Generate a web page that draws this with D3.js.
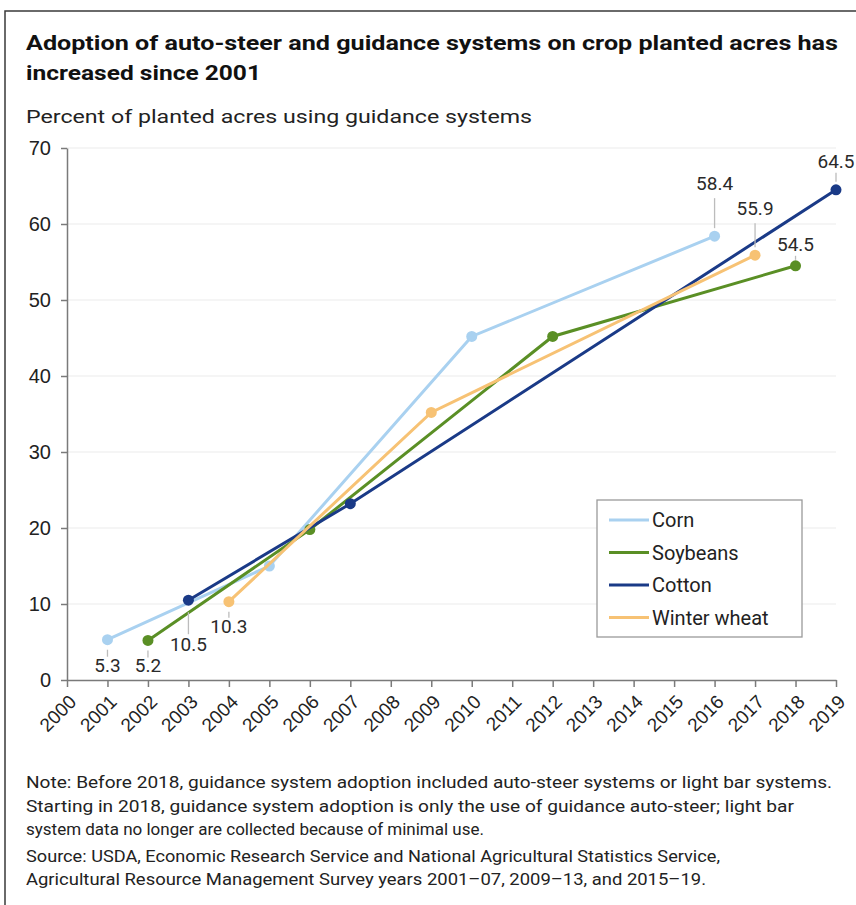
<!DOCTYPE html>
<html>
<head>
<meta charset="utf-8">
<script src="https://cdn.jsdelivr.net/npm/d3@7"></script>
<style>
  body { margin: 0; background: #fff; }
  svg { display: block; font-family: Roboto, "Liberation Sans", sans-serif; }
  .grid line { stroke: #ececec; stroke-width: 1.2; }
  .axis path, .axis line { stroke: #7a7a7a; stroke-width: 1.5; }
  .axis text { fill: #222; }
  .leader { stroke: #bcbcbc; stroke-width: 1.3; }
</style>
</head>
<body>
<div id="viz"></div>
<script>
// survey years and values per crop
const cornYears = [2001, 2005, 2010, 2016];
const cornValues = [5.3, 15.0, 45.2, 58.4];
const soyYears = [2002, 2006, 2012, 2018];
const soyValues = [5.2, 19.8, 45.2, 54.5];
const cottonYears = [2003, 2007, 2019];
const cottonValues = [10.5, 23.2, 64.5];
const wheatYears = [2004, 2009, 2017];
const wheatValues = [10.3, 35.2, 55.9];

const seriesNames = ["Corn", "Soybeans", "Cotton", "Winter wheat"];
const yTicks = [0, 10, 20, 30, 40, 50, 60, 70];
const xTicks = d3.range(2000, 2020);

// which points carry a value label
const labelled = [
  { crop: "Corn", year: 2001 }, { crop: "Soybeans", year: 2002 },
  { crop: "Cotton", year: 2003 }, { crop: "Winter wheat", year: 2004 },
  { crop: "Corn", year: 2016 }, { crop: "Winter wheat", year: 2017 },
  { crop: "Soybeans", year: 2018 }, { crop: "Cotton", year: 2019 }
];

// label placement in px relative to the point: text baseline offset, leader start/end
const labelPlace = {
  "Corn-2001": [32, 10, 17], "Soybeans-2002": [32, 10, 17],
  "Cotton-2003": [51, 12, 34], "Winter wheat-2004": [31, 10, 16],
  "Corn-2016": [-46, -8, -38], "Winter wheat-2017": [-40, -8, -32],
  "Soybeans-2018": [-15, -6, -10], "Cotton-2019": [-22, -8, -17]
};

const colors = {
  "Corn": "#a9d1f0",
  "Soybeans": "#5a8f25",
  "Cotton": "#1a3a87",
  "Winter wheat": "#f7c274"
};

const series = [
  { name: "Corn", pts: cornYears.map((y, i) => ({ year: y, v: cornValues[i] })) },
  { name: "Soybeans", pts: soyYears.map((y, i) => ({ year: y, v: soyValues[i] })) },
  { name: "Cotton", pts: cottonYears.map((y, i) => ({ year: y, v: cottonValues[i] })) },
  { name: "Winter wheat", pts: wheatYears.map((y, i) => ({ year: y, v: wheatValues[i] })) }
];

const W = 856, H = 905;
const svg = d3.select("#viz").append("svg").attr("width", W).attr("height", H);

// outer frame
svg.append("rect")
  .attr("x", 5).attr("y", 11).attr("width", W + 10).attr("height", H + 10)
  .attr("fill", "none").attr("stroke", "#3a3a3a").attr("stroke-width", 1.5);

svg.append("text").attr("x", 26).attr("y", 50)
  .attr("font-size", 20).attr("font-weight", 700).attr("fill", "#111")
  .attr("textLength", 812).attr("lengthAdjust", "spacingAndGlyphs")
  .text("Adoption of auto-steer and guidance systems on crop planted acres has");
svg.append("text").attr("x", 26).attr("y", 80)
  .attr("font-size", 20).attr("font-weight", 700).attr("fill", "#111")
  .attr("textLength", 235).attr("lengthAdjust", "spacingAndGlyphs")
  .text("increased since 2001");
svg.append("text").attr("x", 26).attr("y", 123)
  .attr("font-size", 19).attr("fill", "#222")
  .attr("textLength", 506).attr("lengthAdjust", "spacingAndGlyphs")
  .text("Percent of planted acres using guidance systems");

const x = d3.scaleLinear().domain([2000, 2019]).range([67, 836]);
const y = d3.scaleLinear().domain([0, 70]).range([680, 148]);

// gridlines
svg.append("g").attr("class", "grid")
  .selectAll("line").data(yTicks.slice(1)).join("line")
  .attr("x1", x(2000)).attr("x2", x(2019))
  .attr("y1", d => y(d)).attr("y2", d => y(d));

const yAxis = svg.append("g").attr("class", "axis")
  .attr("transform", `translate(${x(2000)},0)`)
  .call(d3.axisLeft(y).tickValues(yTicks).tickSize(6).tickPadding(10).tickSizeOuter(0));
yAxis.selectAll("text").attr("font-size", 20);

const xAxis = svg.append("g").attr("class", "axis")
  .attr("transform", `translate(0,${y(0)})`)
  .call(d3.axisBottom(x).tickValues(xTicks).tickFormat(d3.format("d")).tickSize(7).tickSizeOuter(0));
xAxis.selectAll("text")
  .attr("font-size", 19)
  .attr("text-anchor", "end")
  .attr("dy", null).attr("y", 0)
  .attr("transform", "translate(10,23) rotate(-45)");

const line = d3.line().x(d => x(d.year)).y(d => y(d.v));

const gSeries = svg.append("g").selectAll("g").data(series).join("g");
gSeries.append("path")
  .attr("d", d => line(d.pts))
  .attr("fill", "none")
  .attr("stroke", d => colors[d.name])
  .attr("stroke-width", 3);
gSeries.selectAll("circle").data(d => d.pts.map(p => ({ ...p, name: d.name }))).join("circle")
  .attr("cx", d => x(d.year)).attr("cy", d => y(d.v)).attr("r", 5.5)
  .attr("fill", d => colors[d.name]);

// value labels with leader lines
const lab = labelled.map(l => {
  const s = series.find(s => s.name === l.crop);
  const p = s.pts.find(p => p.year === l.year);
  return { ...l, v: p.v, place: labelPlace[`${l.crop}-${l.year}`] };
});
const gLab = svg.append("g");
gLab.selectAll("line").data(lab).join("line")
  .attr("class", "leader")
  .attr("x1", d => x(d.year)).attr("x2", d => x(d.year))
  .attr("y1", d => y(d.v) + d.place[1]).attr("y2", d => y(d.v) + d.place[2]);
gLab.selectAll("text").data(lab).join("text")
  .attr("x", d => x(d.year)).attr("y", d => y(d.v) + d.place[0])
  .attr("text-anchor", "middle").attr("font-size", 19).attr("fill", "#2a2a2a")
  .text(d => d3.format(".1f")(d.v));

// legend
const lg = svg.append("g").attr("transform", "translate(597,500)");
lg.append("rect").attr("width", 205).attr("height", 137)
  .attr("fill", "#fff").attr("stroke", "#9a9a9a").attr("stroke-width", 1.3);
const li = lg.selectAll("g").data(seriesNames).join("g")
  .attr("transform", (d, i) => `translate(0,${20 + i * 32.5})`);
li.append("line").attr("x1", 12).attr("x2", 52).attr("y1", 0).attr("y2", 0)
  .attr("stroke", d => colors[d]).attr("stroke-width", 3);
li.append("text").attr("x", 55).attr("y", 7).attr("font-size", 20).attr("fill", "#222").text(d => d);

// notes
const notes = [
  "Note: Before 2018, guidance system adoption included auto-steer systems or light bar systems.",
  "Starting in 2018, guidance system adoption is only the use of guidance auto-steer; light bar",
  "system data no longer are collected because of minimal use."
];
const noteW = [806, 768, 458];
svg.append("g").selectAll("text").data(notes).join("text")
  .attr("x", 26).attr("y", (d, i) => 788 + i * 23.5)
  .attr("font-size", 17).attr("fill", "#222")
  .attr("textLength", (d, i) => noteW[i]).attr("lengthAdjust", "spacingAndGlyphs")
  .text(d => d);
const source = [
  "Source: USDA, Economic Research Service and National Agricultural Statistics Service,",
  "Agricultural Resource Management Survey years 2001–07, 2009–13, and 2015–19."
];
const sourceW = [694, 680];
svg.append("g").selectAll("text").data(source).join("text")
  .attr("x", 26).attr("y", (d, i) => 862 + i * 23)
  .attr("font-size", 17).attr("fill", "#222")
  .attr("textLength", (d, i) => sourceW[i]).attr("lengthAdjust", "spacingAndGlyphs")
  .text(d => d);
</script>
</body>
</html>
